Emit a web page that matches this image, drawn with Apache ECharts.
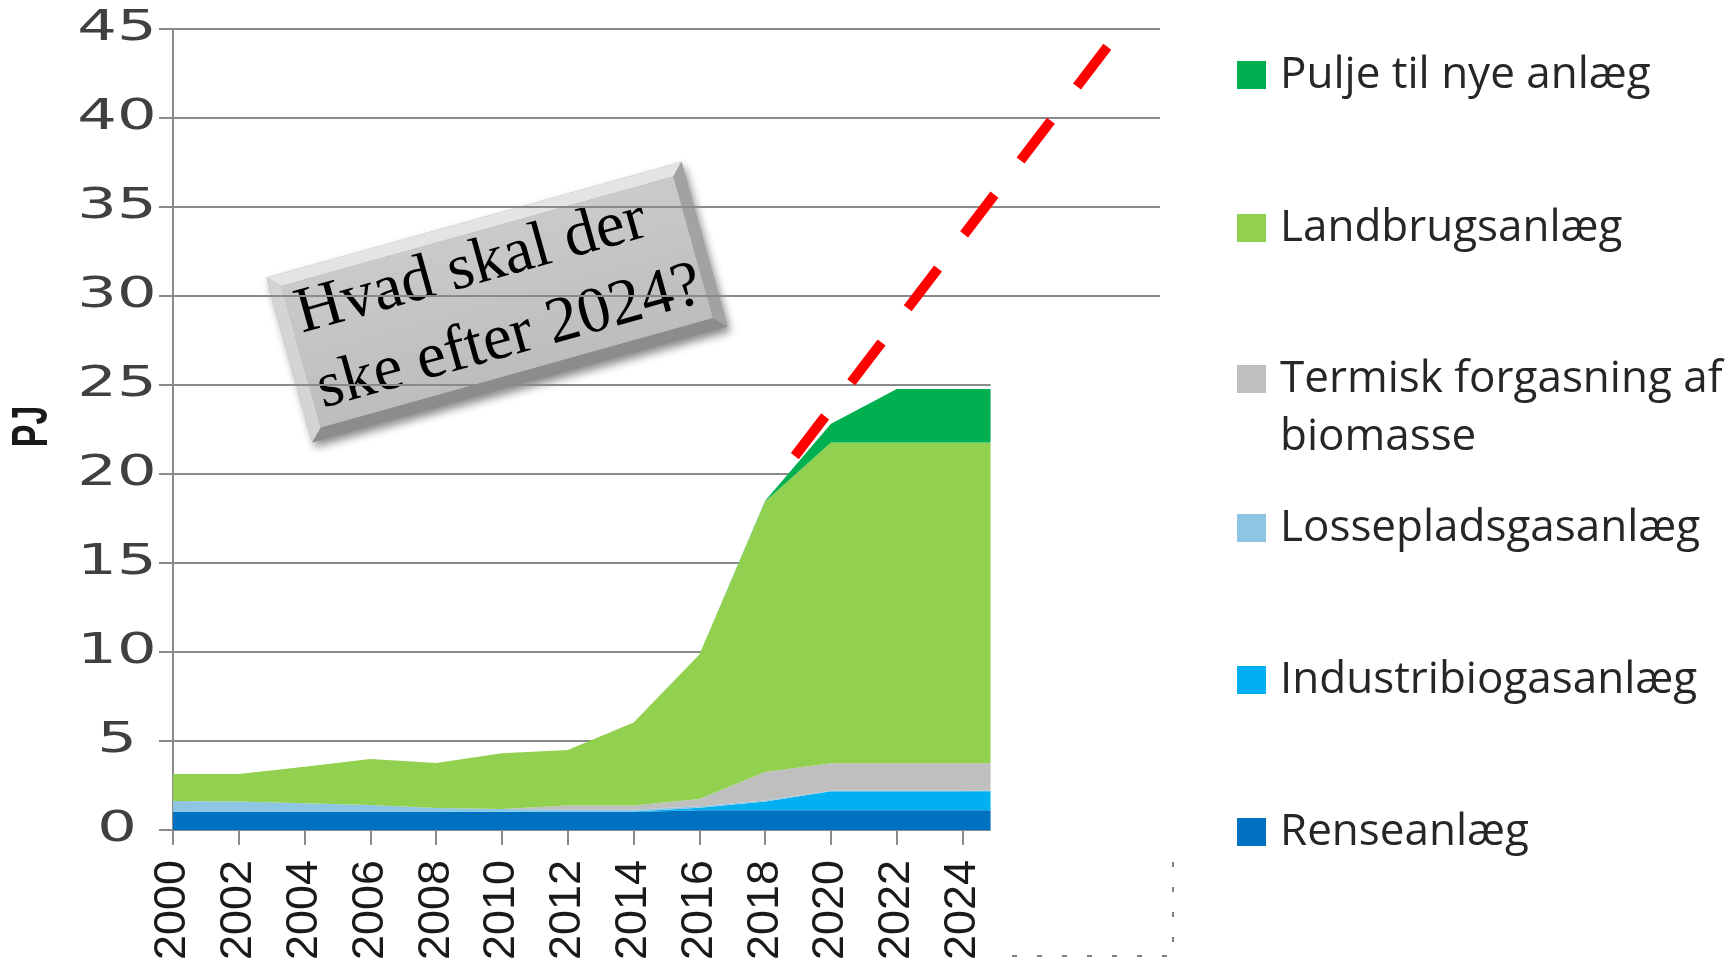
<!DOCTYPE html>
<html>
<head>
<meta charset="utf-8">
<script src="https://cdn.jsdelivr.net/npm/echarts@6/dist/echarts.min.js"></script>
<style>
html,body{margin:0;padding:0;background:#fff;}
#chart{width:1732px;height:963px;}
</style>
</head>
<body>
<div id="chart"></div>
<script>
// kategorier paa x-aksen (hele aksen, ogsaa den afdaekkede del)
let categories = ['2000','2001','2002','2003','2004','2005','2006','2007','2008','2009','2010',
  '2011','2012','2013','2014','2015','2016','2017','2018','2019','2020',
  '2021','2022','2023','2024','2025','2026','2027','2028','2029','2030'];
// aar hvor kurverne knaekker
let years      = ['2000','2002','2004','2006','2008','2010','2012','2014','2016','2018','2020','2022','2024','2025'];
let rense      = [1.0, 1.0, 1.0, 1.0, 1.0, 1.0, 1.0, 1.0, 1.1, 1.1, 1.1, 1.1, 1.1, 1.1];
let industri   = [0.03, 0.03, 0.03, 0.03, 0.03, 0.03, 0.03, 0.03, 0.15, 0.5, 1.07, 1.07, 1.07, 1.07];
let losseplads = [0.6, 0.56, 0.47, 0.37, 0.2, 0.15, 0.12, 0.1, 0.08, 0.05, 0.03, 0.03, 0.03, 0.03];
let termisk    = [0, 0, 0, 0, 0, 0, 0.22, 0.24, 0.4, 1.6, 1.55, 1.55, 1.55, 1.55];
let landbrug   = [1.51, 1.55, 2.05, 2.58, 2.53, 3.12, 3.12, 4.66, 8.12, 15.2, 18.02, 18.02, 18.02, 18.02];
let pulje      = [0, 0, 0, 0, 0, 0, 0, 0, 0, 0.05, 1.05, 3.0, 3.0, 3.0];
// roed stiplet linje (start, slut)
let redLine = [[2018.9, 21.0], [2028.4, 44.0]];
// y-aksens tal
let yTicks = [0, 5, 10, 15, 20, 25, 30, 35, 40, 45];
let lastLabelYear = 2024;

let legendNames = ['Pulje til nye anlæg', 'Landbrugsanlæg', 'Termisk forgasning af biomasse',
  'Lossepladsgasanlæg', 'Industribiogasanlæg', 'Renseanlæg'];

let seriesDefs = [
  {name: 'Renseanlæg', data: rense, color: '#0070C0'},
  {name: 'Industribiogasanlæg', data: industri, color: '#00B0F0'},
  {name: 'Lossepladsgasanlæg', data: losseplads, color: '#8EC5E3'},
  {name: 'Termisk forgasning af biomasse', data: termisk, color: '#BFBFBF'},
  {name: 'Landbrugsanlæg', data: landbrug, color: '#92D050'},
  {name: 'Pulje til nye anlæg', data: pulje, color: '#00B050'}
];

let gridColor = '#8a8a8a';
let legendCenters = [75, 228, 379, 528, 680, 832];

let chartDom = document.getElementById('chart');
let myChart = echarts.init(chartDom);

let series = seriesDefs.map(function (s) {
  return {
    name: s.name,
    type: 'line',
    stack: 'total',
    symbol: 'none',
    silent: true,
    lineStyle: {width: 0},
    itemStyle: {color: s.color},
    areaStyle: {color: s.color, opacity: 1},
    data: years.map(function (y, i) { return [y, s.data[i]]; })
  };
});
series.push({
  name: 'trend',
  type: 'line',
  xAxisIndex: 1,
  symbol: 'none',
  silent: true,
  z: 4,
  lineStyle: {color: '#ff0000', width: 10, type: [50, 43], cap: 'butt'},
  data: redLine
});

let legends = legendNames.map(function (n, i) {
  let two = n.indexOf('biomasse') >= 0;
  return {
    data: [n],
    left: 1237,
    top: legendCenters[i] - (two ? 87 : 29),
    padding: 0,
    icon: 'rect',
    itemWidth: 29,
    itemHeight: 28,
    selectedMode: false,
    // tom linje foerst, saa ikonet flugter med foerste tekstlinje
    formatter: function (name) { return name.indexOf(' biomasse') >= 0 ? '\n' + name.replace(' biomasse', '\nbiomasse') : name; },
    textStyle: {fontFamily: 'Open Sans', fontSize: 44, color: '#262626', lineHeight: 58, padding: [0, 0, 0, 9]}
  };
});

// kasse med spoergsmaal
let boxW = 431, boxH = 171, bev = 12;
let hw = boxW / 2, hh = boxH / 2;
let boxGroup = {
  type: 'group',
  x: 497, y: 302,
  rotation: 15.6 * Math.PI / 180,
  children: [
    {type: 'rect', z: -1, shape: {x: -hw, y: -hh, width: boxW, height: boxH},
      style: {fill: '#9c9c9c', shadowBlur: 8, shadowOffsetX: 3, shadowOffsetY: 5, shadowColor: 'rgba(0,0,0,0.45)'}},
    {type: 'polygon', z: -1, shape: {points: [[-hw, -hh], [hw, -hh], [hw - bev, -hh + bev], [-hw + bev, -hh + bev]]}, style: {fill: '#e4e4e4'}},
    {type: 'polygon', z: -1, shape: {points: [[-hw, -hh], [-hw + bev, -hh + bev], [-hw + bev, hh - bev], [-hw, hh]]}, style: {fill: '#d4d4d4'}},
    {type: 'polygon', z: -1, shape: {points: [[-hw, hh], [-hw + bev, hh - bev], [hw - bev, hh - bev], [hw, hh]]}, style: {fill: '#8c8c8c'}},
    {type: 'polygon', z: -1, shape: {points: [[hw, -hh], [hw, hh], [hw - bev, hh - bev], [hw - bev, -hh + bev]]}, style: {fill: '#a2a2a2'}},
    {type: 'rect', z: -1, shape: {x: -hw + bev, y: -hh + bev, width: boxW - 2 * bev, height: boxH - 2 * bev},
      style: {fill: new echarts.graphic.LinearGradient(0, 0, 0, 1, [{offset: 0, color: '#cacaca'}, {offset: 1, color: '#bdbdbd'}])}},
    {type: 'text', z: -1, x: -196, y: -1,
      style: {text: 'Hvad skal der\nske efter 2024?', fill: '#000', font: '65px "Liberation Serif", "Times New Roman", serif',
        align: 'left', verticalAlign: 'middle', lineHeight: 78}}
  ]
};

let option = {
  animation: false,
  backgroundColor: '#fff',
  grid: {left: 173, top: 29, right: 572, bottom: 132},
  legend: legends,
  xAxis: [{
    type: 'category',
    data: categories,
    boundaryGap: false,
    axisLine: {lineStyle: {color: gridColor, width: 2}},
    axisTick: {interval: 1, length: 15, lineStyle: {color: gridColor, width: 2}},
    splitLine: {show: false},
    axisLabel: {
      interval: 1, rotate: 90, margin: 30,
      fontFamily: 'Liberation Sans', fontSize: 45, color: '#1a1a1a',
      formatter: function (v) { return Number(v) <= lastLabelYear ? v : ''; }
    }
  }, {
    // skjult hjaelpeakse til den roede linje og afdaekningen
    type: 'value', min: 2000, max: 2030, show: false
  }],
  yAxis: {
    type: 'value',
    min: 0, max: 45, interval: 5,
    axisLine: {show: true, lineStyle: {color: gridColor, width: 2}},
    axisTick: {show: true, length: 14, lineStyle: {color: gridColor, width: 2}},
    splitLine: {lineStyle: {color: gridColor, width: 2}},
    axisLabel: {show: false}
  },
  graphic: [boxGroup],
  series: series
};
myChart.setOption(option);

// y-aksens tal er bredt stroekket i originalen
let extra = [];
yTicks.forEach(function (v) {
  let py = myChart.convertToPixel({yAxisIndex: 0}, v);
  extra.push({
    type: 'text', x: 117, y: py, scaleX: 1.45,
    style: {text: String(v), fill: '#404040', font: '43px "DejaVu Sans"', align: 'center', verticalAlign: 'middle'}
  });
});
let midY = myChart.convertToPixel({yAxisIndex: 0}, 22.5);
extra.push({
  type: 'text', x: 33, y: midY - 3, rotation: Math.PI / 2, scaleY: 1.45,
  style: {text: 'PJ', fill: '#1a1a1a', font: 'bold 34px "Liberation Sans"', align: 'center', verticalAlign: 'middle'}
});

// hvid afdaekning efter 2024 ligesom i originalen
let p1 = myChart.convertToPixel({xAxisIndex: 1, yAxisIndex: 0}, [2024.85, 25]);
let coverRight = 1175, coverBottom = 960;
extra.push({
  type: 'rect', z: 5,
  shape: {x: p1[0], y: p1[1] - 2, width: coverRight - p1[0], height: coverBottom - p1[1] + 2},
  style: {fill: '#fff'}
});
extra.push({
  type: 'polyline', z: 6,
  shape: {points: [[coverRight - 2, 862], [coverRight - 2, coverBottom - 4], [p1[0] + 20, coverBottom - 4]]},
  style: {stroke: '#555', lineWidth: 1.5, lineDash: [5, 20], fill: null}
});
myChart.setOption({graphic: [boxGroup].concat(extra)});
window.onresize = myChart.resize;
</script>
</body>
</html>
